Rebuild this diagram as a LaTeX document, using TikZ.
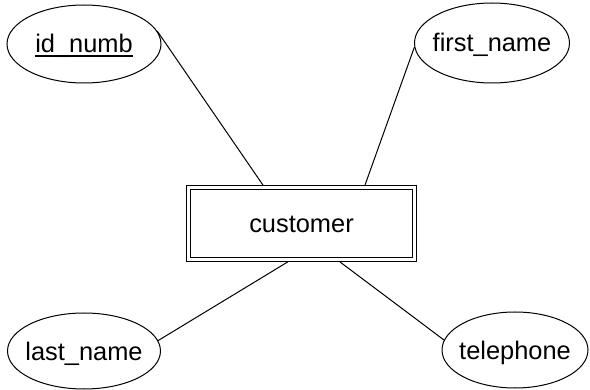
\documentclass[tikz,border=0pt]{standalone}
\usepackage{fontspec}
\setmainfont{Liberation Sans}
\usetikzlibrary{shapes.geometric,calc}
\newcommand{\keyattr}[1]{\setbox0\hbox{#1}\rlap{\rule[-2pt]{\wd0}{0.9pt}}\box0}
\begin{document}
\begin{tikzpicture}[x=0.5pt,y=-0.5pt,
  attr/.style={ellipse,draw,line width=0.5pt,inner sep=0pt},
  lbl/.style={font=\fontsize{12.7pt}{15pt}\selectfont,inner sep=0pt,anchor=base,yshift=-4.5pt},
  entity/.style={rectangle,draw,line width=0.5pt,double,double distance=1.5pt,outer sep=1.25pt,inner sep=0pt,
    minimum width=113pt,minimum height=36pt},
  link/.style={line width=0.5pt}]
\useasboundingbox (0,0) rectangle (590,390);
\node[entity] (cust) at (301.5,223.5) {};
\node[lbl] (custt) at (cust.center) {customer};
\node[attr,minimum width=77pt,minimum height=39pt] (id) at (84,44) {};
\node[lbl] (idt) at (id.center) {\keyattr{id\_numb}};
\node[attr,minimum width=77.5pt,minimum height=40pt] (fn) at (492,43) {};
\node[lbl] (fnt) at (fn.center) {first\_name};
\node[attr,minimum width=76.5pt,minimum height=38pt] (ln) at (84,351) {};
\node[lbl] (lnt) at (ln.center) {last\_name};
\node[attr,minimum width=73pt,minimum height=38pt] (tel) at (515,350) {};
\node[lbl] (telt) at (tel.center) {telephone};
\draw[link] (id.10) -- ($(cust.north west)!0.333!(cust.north east)$);
\draw[link] (fn.183) -- ($(cust.north west)!0.775!(cust.north east)$);
\draw[link] (ln.8) -- ($(cust.south west)!0.44!(cust.south east)$);
\draw[link] (tel.172) -- ($(cust.south west)!0.667!(cust.south east)$);
\end{tikzpicture}
\end{document}
